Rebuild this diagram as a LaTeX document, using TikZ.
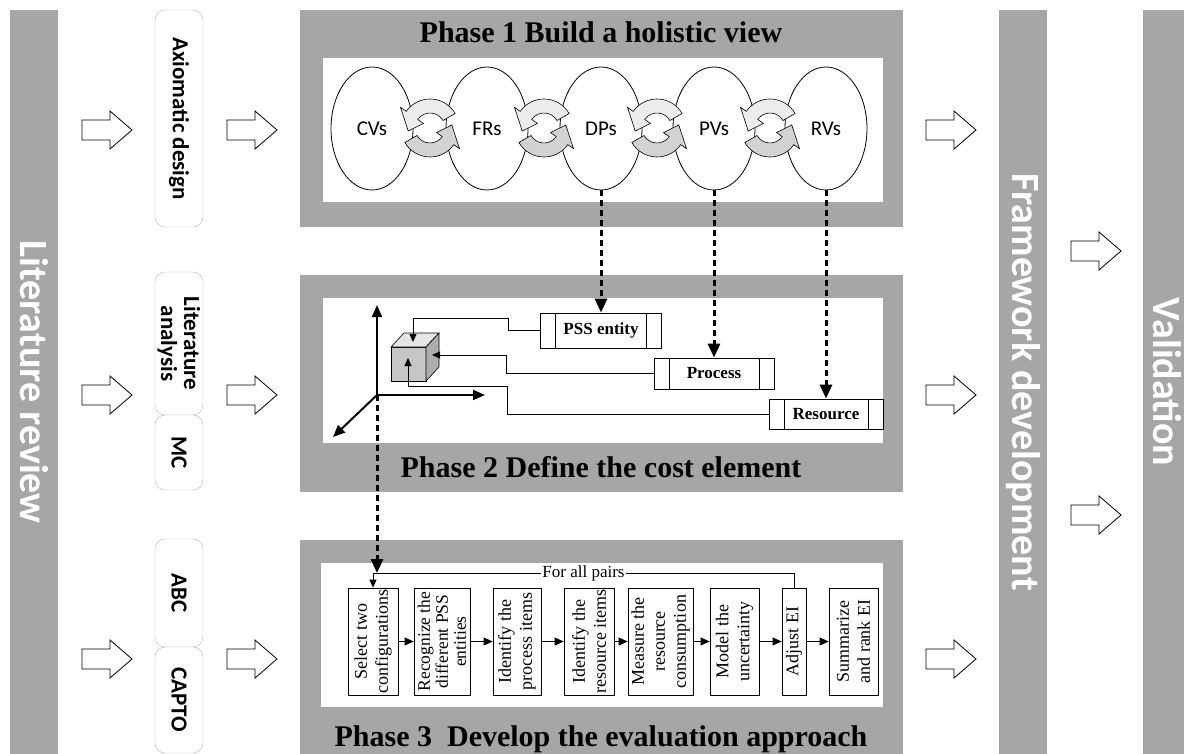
\documentclass[tikz,border=0pt]{standalone}
\usepackage{fontspec}
\setmainfont{Liberation Serif}
\newfontfamily\calibri{Carlito}
\usepackage{tikz}
\usetikzlibrary{shapes.geometric}
\usetikzlibrary{arrows.meta, positioning, calc}
\definecolor{bargray}{RGB}{166,166,166}

\tikzset{
    blockarrow/.pic={
        \draw[fill=white, line width=0.8pt] (0,-10) -- (28,-10) -- (28,-19) -- (50,0)
            -- (28,19) -- (28,10) -- (0,10) -- cycle;
    },
    cyc/.pic={
        % over the top, ends pointing down
        \draw[fill=gray!15, line width=0.6pt] (-30:29) arc[start angle=-30, end angle=-145, radius=29]
            -- (-145:36) -- (-188:22) -- (-145:8) -- (-145:15)
            arc[start angle=-145, end angle=-30, radius=15] -- cycle;
        % under the bottom, ends pointing up
        \draw[fill=gray!35, line width=0.6pt] (150:29) arc[start angle=150, end angle=35, radius=29]
            -- (35:36) -- (-8:22) -- (35:8) -- (35:15)
            arc[start angle=35, end angle=150, radius=15] -- cycle;
    }
}

\begin{document}
\begin{tikzpicture}[x=1pt, y=-1pt,
    bar/.style={rotate=-90, fill=bargray, text=white, minimum width=744, minimum height=48,
        inner sep=0, font=\calibri\bfseries\fontsize{40}{44}\selectfont},
    tool/.style={rotate=-90, draw=gray!55, rounded corners=10, fill=white, minimum height=48,
        inner sep=0, align=center, font=\calibri\bfseries\fontsize{23}{23}\selectfont},
    title/.style={anchor=base, font=\bfseries\fontsize{30}{32}\selectfont},
    var/.style={ellipse, draw, line width=0.8pt, minimum width=82, minimum height=123,
        inner sep=0, font=\calibri\fontsize{21}{22}\selectfont},
    element/.style={draw, line width=0.8pt, inner sep=0, font=\bfseries\fontsize{17}{18}\selectfont,
        path picture={
            \draw ([xshift=15pt]path picture bounding box.north west) -- ([xshift=15pt]path picture bounding box.south west);
            \draw ([xshift=-15pt]path picture bounding box.north east) -- ([xshift=-15pt]path picture bounding box.south east);
        }},
    stepbox/.style={rotate=90, draw, line width=0.8pt, minimum width=107, inner sep=0, align=center,
        font=\fontsize{18}{21}\selectfont},
    dasharrow/.style={line width=3pt, dash pattern=on 6pt off 4pt, -{Triangle[length=14pt, width=12pt]}},
    axis/.style={line width=2pt, -{Triangle[length=12pt, width=10pt]}},
    link/.style={line width=0.8pt, -{Triangle[length=8pt, width=7pt]}},
    flow/.style={line width=0.9pt, -{Triangle[length=9pt, width=8pt]}}]

    \useasboundingbox (0,0) rectangle (1184,754);

    % Columns
    \node[bar] (litrev) at (34,382) {Literature review};
    \node[bar] (framework) at (1023,382) {Framework development};
    \node[bar] (valid) at (1167,382) {Validation};

    % Methods
    \node[tool, minimum width=217] (axd) at (179,118.5) {Axiomatic design};
    \node[tool, minimum width=143] (lita) at (179,343.5) {Literature\\analysis};
    \node[tool, minimum width=75] (mc) at (179,452.5) {MC};
    \node[tool, minimum width=108] (abc) at (179,593) {ABC};
    \node[tool, minimum width=106] (capto) at (179,700) {CAPTO};

    % Phase panels
    \fill[bargray] (300,10) rectangle (903,227);
    \fill[white] (323,58) rectangle (883,202);
    \fill[bargray] (300,275) rectangle (903,492);
    \fill[white] (323,298) rectangle (883,443);
    \fill[bargray] (300,540) rectangle (903,754);
    \fill[white] (321,563) rectangle (883,707);

    \node[title] (t1) at (601,43) {Phase 1 Build a holistic view};
    \node[title] (t2) at (601,477) {Phase 2 Define the cost element};
    \node[title] (t3) at (601,746) {Phase 3\ \ Develop the evaluation approach};

    % Big arrows
    \pic at (82,130) {blockarrow};
    \pic at (82,395) {blockarrow};
    \pic at (82,659) {blockarrow};
    \pic at (227,130) {blockarrow};
    \pic at (227,395) {blockarrow};
    \pic at (227,659) {blockarrow};
    \pic at (926,130) {blockarrow};
    \pic at (926,395) {blockarrow};
    \pic at (926,659) {blockarrow};
    \pic at (1071,251) {blockarrow};
    \pic at (1071,515) {blockarrow};

    % Phase 1
    \node[var] (cv) at (372,128.5) {CVs};
    \node[var] (fr) at (487,128.5) {FRs};
    \node[var] (dp) at (601,128.5) {DPs};
    \node[var] (pv) at (714,128.5) {PVs};
    \node[var] (rv) at (826,128.5) {RVs};

    \pic at (430,128) {cyc};
    \pic at (544,128) {cyc};
    \pic at (657,128) {cyc};
    \pic at (770,128) {cyc};

    % Phase 2
    \node[element, minimum width=121, minimum height=35] (pss) at (601,330.5) {PSS entity};
    \node[element, minimum width=120, minimum height=31] (proc) at (714,373.5) {Process};
    \node[element, minimum width=114, minimum height=30] (res) at (826,414) {Resource};

    \coordinate (org) at (377,395);
    \draw[axis] (org) -- (377,305);
    \draw[axis] (org) -- (485,395);
    \draw[axis] (org) -- (333,437);

    % cube
    \filldraw[fill=gray!45, line width=0.6pt] (391,347) rectangle (426,381);
    \filldraw[fill=gray!20, line width=0.6pt] (391,347) -- (404,333) -- (439,333) -- (426,347) -- cycle;
    \filldraw[fill=gray!65, line width=0.6pt] (426,347) -- (439,333) -- (439,367) -- (426,381) -- cycle;
    \coordinate (cubetop) at (413,342);
    \coordinate (cuberight) at (432,355);
    \coordinate (cubefront) at (408,358);

    \draw[link] (pss.west) -- ++(-32,0) |- (413,318) -- (cubetop);
    \draw[link] (proc.west) -- ++(-147,0) |- (cuberight);
    \draw[link] (res.west) -- ++(-261,0) |- (408,386) -- (cubefront);

    \draw[dasharrow] (dp.south) -- (pss.north);
    \draw[dasharrow] (pv.south) -- (proc.north);
    \draw[dasharrow] (rv.south) -- (res.north);

    % Phase 3
    \node[stepbox, minimum height=50] (sel) at (373,641.5) {Select two\\configurations};
    \node[stepbox, minimum height=56, font=\fontsize{17.5}{18}\selectfont] (rec) at (442,641.5) {Recognize the\\different PSS\\entities};
    \node[stepbox, minimum height=48] (idp) at (517,641.5) {Identify the\\process items};
    \node[stepbox, minimum height=50] (idr) at (589,641.5) {Identify the\\resource items};
    \node[stepbox, minimum height=65] (mea) at (660.5,641.5) {Measure the\\resource\\consumption};
    \node[stepbox, minimum height=49] (mod) at (734.5,641.5) {Model the\\uncertainty};
    \node[stepbox, minimum height=24] (adj) at (794,641.5) {Adjust EI};
    \node[stepbox, minimum height=49] (sum) at (853.5,641.5) {Summarize\\and rank EI};

    % rotated boxes: south is on the right, north on the left, east on top
    \draw[flow] (sel.south) -- (rec.north);
    \draw[flow] (rec.south) -- (idp.north);
    \draw[flow] (idp.south) -- (idr.north);
    \draw[flow] (idr.south) -- (mea.north);
    \draw[flow] (mea.south) -- (mod.north);
    \draw[flow] (mod.south) -- (adj.north);
    \draw[flow] (adj.south) -- (sum.north);

    \coordinate (loop) at (373,573);
    \draw[link] (adj.east) |- node[pos=0.75, fill=white, inner sep=1pt, font=\fontsize{17}{18}\selectfont] {For all pairs} (loop) -- (sel.east);

    \draw[dasharrow] (org) -- (org |- loop);

\end{tikzpicture}
\end{document}
